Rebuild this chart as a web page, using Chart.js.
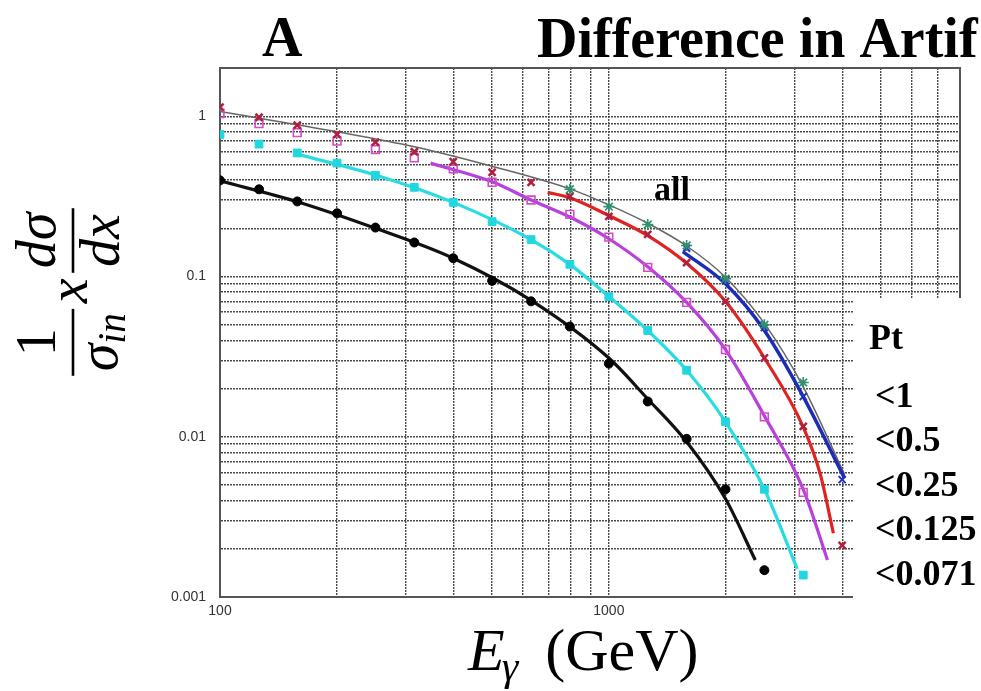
<!DOCTYPE html>
<html>
<head>
<meta charset="utf-8">
<script src="https://cdn.jsdelivr.net/npm/chart.js@4"></script>
<style>
  html, body { margin: 0; padding: 0; background: #fff; }
  #wrap { width: 981px; height: 691px; position: relative; }
</style>
</head>
<body>
<div id="wrap"><canvas id="myChart"></canvas></div>
<script>
"use strict";

// Photon energies of the measured points (GeV)
const energies = [100, 126, 158, 200, 251, 316, 398, 501, 631, 794, 1000, 1259, 1585, 1995, 2512, 3162, 3981];

// Measured points, one array per Pt cut (null = no point)
const ptAll    = [null, null, null, null, null, null, null, null, null, 0.35, 0.273, 0.211, 0.156, 0.097, 0.050, 0.0218, null];
const ptBelow1 = [null, null, null, null, null, null, null, null, null, null, null, null, 0.15, 0.094, 0.048, 0.0178, 0.0054];
const ptBelow05 = [1.14, 0.985, 0.88, 0.77, 0.69, 0.60, 0.52, 0.447, 0.387, 0.316, 0.237, 0.183, 0.122, 0.07, 0.031, 0.0116, 0.0021];
const ptBelow025 = [1.04, 0.90, 0.79, 0.70, 0.62, 0.55, 0.47, 0.387, 0.30, 0.244, 0.176, 0.114, 0.069, 0.035, 0.0133, 0.0045, null];
const ptBelow0125 = [0.77, 0.67, 0.59, 0.51, 0.428, 0.36, 0.29, 0.22, 0.17, 0.119, 0.075, 0.046, 0.026, 0.0124, 0.0047, 0.00137, null];
const ptBelow0071 = [0.398, 0.35, 0.294, 0.248, 0.202, 0.163, 0.13, 0.094, 0.070, 0.0487, 0.0286, 0.0166, 0.0097, 0.0047, 0.00147, null, null];

// Fitted curves (energy, value)
const fitAllE = [100, 200, 316, 501, 794, 1000, 1259, 1585, 1995, 2512, 3162, 4040];
const fitAllV = [1.07, 0.80, 0.645, 0.487, 0.352, 0.28, 0.215, 0.155, 0.099, 0.051, 0.0205, 0.0058];
const fitBelow1E = [1550, 1995, 2512, 3162, 4040];
const fitBelow1V = [0.143, 0.09, 0.046, 0.0178, 0.0055];
const fitBelow05E = [696, 794, 1000, 1259, 1585, 1995, 2512, 3162, 3500, 3780];
const fitBelow05V = [0.335, 0.31, 0.24, 0.18, 0.121, 0.07, 0.031, 0.0115, 0.0058, 0.0025];
const fitBelow025E = [348, 501, 631, 794, 1000, 1259, 1585, 1995, 2512, 3162, 3650];
const fitBelow025V = [0.51, 0.39, 0.30, 0.235, 0.172, 0.115, 0.069, 0.035, 0.0135, 0.0047, 0.0017];
const fitBelow0125E = [158, 251, 398, 631, 794, 1000, 1259, 1585, 1995, 2512, 3050];
const fitBelow0125V = [0.58, 0.43, 0.29, 0.17, 0.119, 0.075, 0.046, 0.026, 0.0124, 0.0047, 0.0015];
const fitBelow0071E = [100, 158, 251, 398, 631, 1000, 1259, 1585, 1995, 2380];
const fitBelow0071V = [0.395, 0.293, 0.2, 0.13, 0.071, 0.031, 0.0172, 0.0093, 0.0041, 0.0017];

// Axes
const xGridValues = [100, 200, 300, 400, 500, 600, 700, 800, 900, 1000, 2000, 3000, 4000, 5000, 6000, 7000, 8000];
const xTickLabels = ['100', '1000'];
const yGridValues = [0.001, 0.002, 0.003, 0.004, 0.005, 0.006, 0.007, 0.008, 0.009,
                     0.01, 0.02, 0.03, 0.04, 0.05, 0.06, 0.07, 0.08, 0.09,
                     0.1, 0.2, 0.3, 0.4, 0.5, 0.6, 0.7, 0.8, 0.9, 1, 2];
const yTickLabels = ['1', '0.1', '0.01', '0.001'];
const ptLegendLabels = ['<1', '<0.5', '<0.25', '<0.125', '<0.071'];

function pairs(xs, ys) {
    return xs.map((x, i) => ({ x: x, y: ys[i] })).filter(p => p.y !== null);
}

function fitLine(xs, ys, color, width) {
    return {
        data: pairs(xs, ys),
        showLine: true,
        borderColor: color,
        borderWidth: width,
        pointRadius: 0,
        cubicInterpolationMode: 'monotone',
        order: 2
    };
}

function markers(ys, style, color, fill, radius, width) {
    return {
        data: pairs(energies, ys),
        showLine: false,
        pointStyle: style,
        pointRadius: radius,
        pointBorderColor: color,
        pointBackgroundColor: fill,
        pointBorderWidth: width,
        order: 1
    };
}

const serif = '"Liberation Serif", "Times New Roman", serif';

function drawYTitle(ctx, cx, cy) {
    const F = 56;
    const it = `italic ${F}px ${serif}`;
    const rm = `${F}px ${serif}`;
    const sub = `italic ${Math.round(F * 0.7)}px ${serif}`;
    ctx.save();
    ctx.translate(cx, cy);
    ctx.rotate(-Math.PI / 2);
    ctx.fillStyle = '#000';
    ctx.textBaseline = 'alphabetic';
    ctx.font = it;
    const wSigma = ctx.measureText('σ').width;
    const wX = ctx.measureText('x').width;
    const wTop = ctx.measureText('dσ').width;
    const wBot = ctx.measureText('dx').width;
    ctx.font = sub;
    const wIn = ctx.measureText('in').width;
    const pad = F * 0.08;
    const w1 = wSigma + wIn + 2 * pad;
    const w2 = Math.max(wTop, wBot) + 2 * pad;
    const gap = F * 0.1;
    const total = w1 + gap + wX + gap + w2;
    let u = -total / 2;

    ctx.fillRect(u, -1.3, w1, 2.6);
    ctx.font = rm;
    ctx.textAlign = 'center';
    ctx.fillText('1', u + w1 / 2, -18);
    ctx.textAlign = 'left';
    ctx.font = it;
    ctx.fillText('σ', u + pad, 44);
    ctx.font = sub;
    ctx.fillText('in', u + pad + wSigma, 52);
    u += w1 + gap;

    ctx.font = it;
    ctx.fillText('x', u, 14);
    u += wX + gap;

    ctx.fillRect(u, -1.3, w2, 2.6);
    ctx.textAlign = 'center';
    ctx.fillText('dσ', u + w2 / 2, -18);
    ctx.fillText('dx', u + w2 / 2, 46);
    ctx.restore();
}

function drawXTitle(ctx, x, base) {
    const F = 60;
    ctx.save();
    ctx.fillStyle = '#000';
    ctx.textAlign = 'left';
    ctx.textBaseline = 'alphabetic';
    ctx.font = `italic ${F}px ${serif}`;
    ctx.fillText('E', x, base);
    x += ctx.measureText('E').width;
    ctx.font = `italic ${Math.round(F * 0.7)}px ${serif}`;
    ctx.fillText('γ', x - 3, base + 10);
    x += ctx.measureText('γ').width + F * 0.4;
    ctx.font = `${F}px ${serif}`;
    ctx.fillText('(GeV)', x, base);
    ctx.restore();
}

const decorations = {
    id: 'decorations',
    beforeDraw(chart) {
        const { ctx, width, height } = chart;
        ctx.save();
        ctx.fillStyle = '#fff';
        ctx.fillRect(0, 0, width, height);
        ctx.restore();
    },
    afterDatasetsDraw(chart) {
        // top and right frame of the plot
        const { ctx, chartArea: { left, top, right, bottom } } = chart;
        ctx.save();
        ctx.strokeStyle = '#555';
        ctx.lineWidth = 2;
        ctx.beginPath();
        ctx.moveTo(left, top);
        ctx.lineTo(right, top);
        ctx.lineTo(right, bottom);
        ctx.stroke();
        ctx.restore();
    },
    afterDraw(chart) {
        const { ctx } = chart;
        ctx.save();
        // Pt key box covers the lower right of the plot
        ctx.fillStyle = '#fff';
        ctx.fillRect(853, 298, 128, 393);

        ctx.fillStyle = '#000';
        ctx.textAlign = 'left';
        ctx.textBaseline = 'alphabetic';
        ctx.font = `bold 56px ${serif}`;
        ctx.fillText('A', 262, 56);
        ctx.fillText('Difference in Artif', 537, 57);

        ctx.font = `bold 34px ${serif}`;
        ctx.fillText('all', 654, 200);

        ctx.font = `bold 36px ${serif}`;
        ctx.fillText('Pt', 869, 349);
        const keyBase = [407, 451, 496, 540, 585];
        ptLegendLabels.forEach((t, i) => ctx.fillText(t, 875, keyBase[i]));
        ctx.restore();

        drawYTitle(ctx, 73, 292);
        drawXTitle(ctx, 468, 670);
    }
};

(function CreateChart() {
    const ctx = document.getElementById('myChart');

    const datasets = [
        markers(ptAll, 'star', '#2f8f6f', '#2f8f6f', 5.5, 1.6),
        markers(ptBelow1, 'crossRot', '#2030c0', '#2030c0', 5, 2),
        markers(ptBelow05, 'crossRot', '#b0203e', '#b0203e', 5, 2.5),
        markers(ptBelow025, 'rect', '#d24cc6', 'rgba(0,0,0,0)', 5.5, 1.6),
        markers(ptBelow0125, 'rect', '#22d6e0', '#22d6e0', 5.5, 1),
        markers(ptBelow0071, 'circle', '#000', '#000', 4.5, 1),
        fitLine(fitBelow1E, fitBelow1V, '#1c2cb8', 3.5),
        fitLine(fitAllE, fitAllV, '#666', 1.5),
        fitLine(fitBelow05E, fitBelow05V, '#e02222', 3.2),
        fitLine(fitBelow025E, fitBelow025V, '#b840dc', 3.2),
        fitLine(fitBelow0125E, fitBelow0125V, '#28dce2', 3.2),
        fitLine(fitBelow0071E, fitBelow0071V, '#111', 3.2)
    ];

    const tickFont = { family: '"Liberation Sans", Arial, sans-serif', size: 14 };

    new Chart(ctx, {
        type: 'scatter',
        data: { datasets: datasets },
        options: {
            responsive: true,
            maintainAspectRatio: false,
            animation: false,
            layout: { padding: { top: 68, right: 21, bottom: 0, left: 0 } },
            plugins: {
                legend: { display: false },
                tooltip: { enabled: false },
                title: { display: false }
            },
            scales: {
                x: {
                    type: 'logarithmic',
                    min: 100,
                    max: 8000,
                    afterBuildTicks: (scale) => { scale.ticks = xGridValues.map(v => ({ value: v })); },
                    afterFit: (scale) => { scale.height = 94; },
                    ticks: {
                        autoSkip: false,
                        maxRotation: 0,
                        padding: 6,
                        color: '#333',
                        font: tickFont,
                        callback: (value) => xTickLabels.includes(String(value)) ? String(value) : ''
                    },
                    grid: { color: '#4a4a4a', lineWidth: 1.4, drawTicks: false },
                    border: { display: true, color: '#555', width: 2, dash: [2, 1] }
                },
                y: {
                    type: 'logarithmic',
                    min: 0.001,
                    max: 2,
                    afterBuildTicks: (scale) => { scale.ticks = yGridValues.map(v => ({ value: v })); },
                    afterFit: (scale) => { scale.width = 220; },
                    ticks: {
                        autoSkip: false,
                        padding: 14,
                        color: '#333',
                        font: tickFont,
                        callback: (value) => yTickLabels.includes(String(value)) ? String(value) : ''
                    },
                    grid: { color: '#4a4a4a', lineWidth: 1.4, drawTicks: false },
                    border: { display: true, color: '#555', width: 2, dash: [2, 1] }
                }
            }
        },
        plugins: [decorations]
    });
}());
</script>
</body>
</html>
